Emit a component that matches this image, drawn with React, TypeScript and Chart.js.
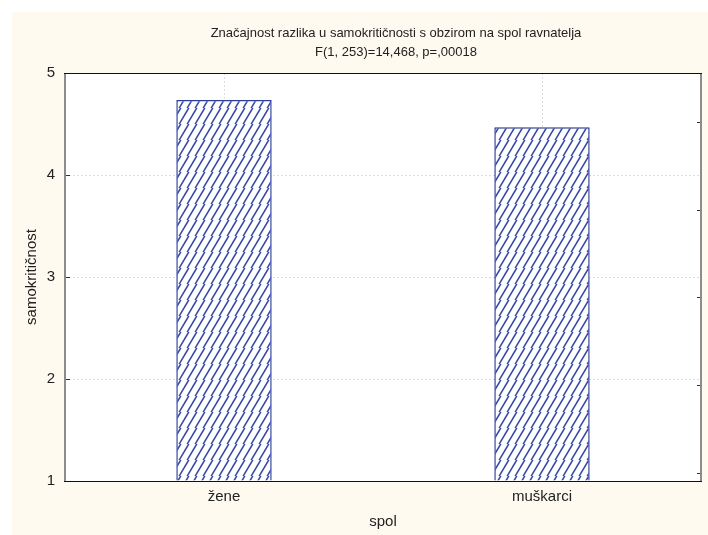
import React, { useEffect, useRef } from "react";
import { Chart, registerables } from "chart.js";

Chart.register(...registerables);

const titleLines = [
  "Značajnost razlika u samokritičnosti s obzirom na spol ravnatelja",
  "F(1, 253)=14,468, p=,00018",
];
const categories = ["žene", "muškarci"];
const values = [4.735, 4.468];
const yTicks = [1, 2, 3, 4, 5];
const rightTicks = [0, 1, 2, 3, 4];
const xTitle = "spol";
const yTitle = "samokritičnost";

const FONT = "'Liberation Sans', Arial, sans-serif";
const TEXT = "#222222";

function makePattern(): CanvasPattern | string {
  const c = document.createElement("canvas");
  c.width = 8;
  c.height = 16;
  const g = c.getContext("2d");
  if (!g) return "#3448A5";
  g.fillStyle = "#ffffff";
  g.fillRect(0, 0, 8, 16);
  g.strokeStyle = "#3448A5";
  g.lineWidth = 1.5;
  for (const x0 of [-8, 0, 8, 16]) {
    g.beginPath();
    g.moveTo(x0 - 1, 16.5);
    g.lineTo(x0 + 9, -0.5);
    g.stroke();
  }
  const p = g.createPattern(c, "repeat");
  return p || "#3448A5";
}

const framePlugin = {
  id: "frame",
  beforeDraw(chart: any) {
    const { ctx, chartArea: a } = chart;
    ctx.save();
    ctx.fillStyle = "#ffffff";
    ctx.fillRect(a.left, a.top, a.right - a.left, a.bottom - a.top);
    ctx.fillStyle = TEXT;
    ctx.font = `13px ${FONT}`;
    ctx.textAlign = "center";
    ctx.textBaseline = "middle";
    ctx.fillText(titleLines[0], 384, 21);
    ctx.fillText(titleLines[1], 384, 40);
    ctx.restore();
  },
  afterDraw(chart: any) {
    const { ctx, chartArea: a } = chart;
    const y = chart.scales.y;
    const y2 = chart.scales.y2;
    ctx.save();
    ctx.strokeStyle = "#333333";
    ctx.lineWidth = 1;
    y.ticks.forEach((t: any) => {
      const py = Math.round(y.getPixelForValue(t.value)) + 0.5;
      ctx.beginPath();
      ctx.moveTo(a.left, py);
      ctx.lineTo(a.left + 5, py);
      ctx.stroke();
    });
    y2.ticks.forEach((t: any) => {
      const py = Math.round(y2.getPixelForValue(t.value)) + 0.5;
      ctx.beginPath();
      ctx.moveTo(a.right, py);
      ctx.lineTo(a.right - 4, py);
      ctx.stroke();
    });
    ctx.strokeStyle = "#8c8c8c";
    ctx.lineWidth = 2;
    ctx.beginPath();
    ctx.moveTo(a.left, a.top);
    ctx.lineTo(a.left, a.bottom);
    ctx.moveTo(a.right, a.top);
    ctx.lineTo(a.right, a.bottom);
    ctx.stroke();
    ctx.strokeStyle = "#111111";
    ctx.lineWidth = 1;
    ctx.beginPath();
    ctx.moveTo(a.left - 1, Math.round(a.top) + 0.5);
    ctx.lineTo(a.right + 1, Math.round(a.top) + 0.5);
    ctx.moveTo(a.left - 1, Math.round(a.bottom) + 0.5);
    ctx.lineTo(a.right + 1, Math.round(a.bottom) + 0.5);
    ctx.stroke();
    ctx.restore();
  },
};

export default function App() {
  const ref = useRef<HTMLCanvasElement | null>(null);
  useEffect(() => {
    if (!ref.current) return;
    const pattern = makePattern();
    const chart = new Chart(ref.current, {
      type: "bar",
      data: {
        labels: categories,
        datasets: [
          {
            data: values,
            base: 1,
            backgroundColor: pattern as any,
            borderColor: "#2B3C9B",
            borderWidth: 1.5,
            barPercentage: 0.3,
            categoryPercentage: 1,
          } as any,
        ],
      },
      options: {
        responsive: false,
        animation: false,
        devicePixelRatio: 1,
        layout: { padding: { left: 0, right: 7, top: 61, bottom: 0 } },
        plugins: {
          legend: { display: false },
          tooltip: { enabled: false },
          title: { display: false },
        },
        scales: {
          x: {
            type: "category",
            offset: true,
            grid: { offset: false, color: "#dcdcdc", drawTicks: false },
            border: { display: false, dash: [2, 2] },
            ticks: { color: TEXT, font: { family: FONT, size: 15 }, padding: 7 },
            title: {
              display: true,
              text: xTitle,
              color: TEXT,
              font: { family: FONT, size: 15 },
              padding: { top: 0, bottom: 4 },
            },
            afterFit(s: any) {
              s.height = 54;
            },
          },
          y: {
            min: 1,
            max: 5,
            grid: { color: "#dcdcdc", drawTicks: false },
            border: { display: false, dash: [2, 2] },
            ticks: {
              stepSize: 1,
              color: TEXT,
              font: { family: FONT, size: 15 },
              padding: 10,
            },
            afterBuildTicks(s: any) {
              s.ticks = yTicks.map((v) => ({ value: v }));
            },
            title: {
              display: true,
              text: yTitle,
              color: TEXT,
              font: { family: FONT, size: 15 },
              padding: { top: 11, bottom: 0 },
            },
            afterFit(s: any) {
              s.width = 53;
            },
          },
          y2: {
            position: "right",
            min: -0.0912,
            max: 4.558,
            grid: { display: false, drawTicks: false },
            border: { display: false },
            ticks: { display: false },
            afterBuildTicks(s: any) {
              s.ticks = rightTicks.map((v) => ({ value: v }));
            },
            afterFit(s: any) {
              s.width = 0;
            },
          },
        },
      } as any,
      plugins: [framePlugin],
    });
    return () => chart.destroy();
  }, []);
  return (
    <div style={{ position: "fixed", left: 12, top: 12, width: 696, height: 523 }}>
      <canvas
        ref={ref}
        width={696}
        height={523}
        style={{ display: "block", width: 696, height: 523, background: "#FFFAF0" }}
      />
    </div>
  );
}
